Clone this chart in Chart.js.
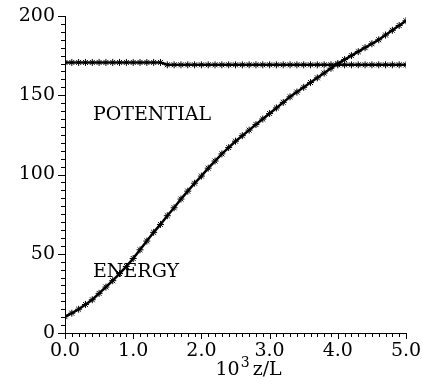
<!DOCTYPE html>
<html>
<head>
<meta charset="utf-8">
<script src="https://cdn.jsdelivr.net/npm/chart.js@4/dist/chart.umd.min.js"></script>
<style>
  html, body { margin: 0; padding: 0; background: #fff; }
  #wrap { width: 422px; height: 384px; }
</style>
</head>
<body>
<div id="wrap"><canvas id="chart" width="422" height="384"></canvas></div>
<script>
// x positions (10^3 z/L), every 0.1
const zValues = [
  0.0, 0.1, 0.2, 0.3, 0.4, 0.5, 0.6, 0.7, 0.8, 0.9,
  1.0, 1.1, 1.2, 1.3, 1.4, 1.5, 1.6, 1.7, 1.8, 1.9,
  2.0, 2.1, 2.2, 2.3, 2.4, 2.5, 2.6, 2.7, 2.8, 2.9,
  3.0, 3.1, 3.2, 3.3, 3.4, 3.5, 3.6, 3.7, 3.8, 3.9,
  4.0, 4.1, 4.2, 4.3, 4.4, 4.5, 4.6, 4.7, 4.8, 4.9, 5.0
];

const potential = [
  170.7, 170.7, 170.7, 170.7, 170.7, 170.7, 170.7, 170.7, 170.7, 170.7,
  170.7, 170.7, 170.7, 170.7, 170.7, 169.2, 169.2, 169.2, 169.2, 169.2,
  169.2, 169.2, 169.2, 169.2, 169.2, 169.2, 169.2, 169.2, 169.2, 169.2,
  169.2, 169.2, 169.2, 169.2, 169.2, 169.2, 169.2, 169.2, 169.2, 169.2,
  169.2, 169.2, 169.2, 169.2, 169.2, 169.2, 169.2, 169.2, 169.2, 169.2, 169.2
];

const energy = [
  10.3, 12.5, 15, 18, 21, 25, 29, 33, 37.5, 42,
  47, 52.5, 58, 63.5, 68.5, 74, 79, 84.5, 89.5, 94.5,
  99, 104, 108.5, 113, 117, 121, 124.5, 128, 131.5, 135,
  138.5, 142, 145.5, 149, 152, 155, 158, 161, 164, 167,
  170, 172.5, 175, 177.5, 180, 182.5, 185, 188, 191, 194, 197
];

const xTicks = [0, 1, 2, 3, 4, 5];
const yTicks = [0, 50, 100, 150, 200];

const labels = [
  { text: 'POTENTIAL', x: 0.41, y: 137.5 },
  { text: 'ENERGY', x: 0.41, y: 38.5 }
];

const FONT = '"DejaVu Serif", "Liberation Serif", serif';

const toPoints = ys => zValues.map((z, i) => ({ x: z, y: ys[i] }));

const extras = {
  id: 'extras',
  afterDraw(chart) {
    const ctx = chart.ctx;
    const xs = chart.scales.x, ys = chart.scales.y;
    const area = chart.chartArea;
    ctx.save();
    ctx.strokeStyle = '#000';
    ctx.lineWidth = 1;
    ctx.beginPath();
    for (let i = 0; i <= 50; i++) {
      const px = Math.round(xs.getPixelForValue(i / 10)) + 0.5;
      const len = i % 10 === 0 ? 6 : 4;
      ctx.moveTo(px, area.bottom);
      ctx.lineTo(px, area.bottom + len);
    }
    for (let i = 0; i <= 40; i++) {
      const py = Math.round(ys.getPixelForValue(i * 5)) + 0.5;
      const len = i % 10 === 0 ? 7 : 4;
      ctx.moveTo(area.left, py);
      ctx.lineTo(area.left - len, py);
    }
    ctx.stroke();

    ctx.fillStyle = '#000';
    ctx.font = '19px ' + FONT;
    ctx.textBaseline = 'middle';
    ctx.textAlign = 'left';
    labels.forEach(l => {
      ctx.fillText(l.text, xs.getPixelForValue(l.x), ys.getPixelForValue(l.y));
    });

    // axis title: 10^3 z/L
    ctx.textBaseline = 'alphabetic';
    const tx = (area.left + area.right) / 2 - 20;
    const ty = area.bottom + 42;
    ctx.fillText('10', tx, ty);
    const w10 = ctx.measureText('10').width;
    ctx.font = '14px ' + FONT;
    ctx.fillText('3', tx + w10 + 1, ty - 8);
    ctx.font = '19px ' + FONT;
    ctx.fillText('z/L', tx + w10 + 13, ty);
    ctx.restore();
  }
};

new Chart(document.getElementById('chart').getContext('2d'), {
  type: 'line',
  data: {
    datasets: [
      {
        label: 'Potential',
        data: toPoints(potential),
        borderColor: '#000',
        backgroundColor: '#000',
        borderWidth: 2.5,
        pointStyle: 'star',
        pointRadius: 3.5,
        pointBorderWidth: 1,
        tension: 0
      },
      {
        label: 'Energy',
        data: toPoints(energy),
        borderColor: '#000',
        backgroundColor: '#000',
        borderWidth: 2.5,
        pointStyle: 'star',
        pointRadius: 3.5,
        pointBorderWidth: 1,
        tension: 0
      }
    ]
  },
  options: {
    responsive: false,
    animation: false,
    layout: { padding: { left: 0, top: 16, right: 16, bottom: 0 } },
    plugins: {
      legend: { display: false },
      tooltip: { enabled: false }
    },
    scales: {
      x: {
        type: 'linear',
        min: 0,
        max: 5,
        afterBuildTicks: s => { s.ticks = xTicks.map(v => ({ value: v })); },
        ticks: {
          color: '#000',
          font: { family: FONT, size: 19 },
          padding: 7,
          maxRotation: 0,
          callback: v => Number(v).toFixed(1)
        },
        grid: { display: true, drawOnChartArea: false, drawTicks: false },
        border: { display: true, color: '#000', width: 1 },
        afterFit: s => { s.height = 51; s.paddingLeft = 0; s.paddingRight = 0; }
      },
      y: {
        min: 0,
        max: 200,
        afterBuildTicks: s => { s.ticks = yTicks.map(v => ({ value: v })); },
        ticks: {
          color: '#000',
          font: { family: FONT, size: 19 },
          padding: 10
        },
        grid: { display: true, drawOnChartArea: false, drawTicks: false },
        border: { display: true, color: '#000', width: 1 },
        afterFit: s => { s.width = 65; s.paddingTop = 0; s.paddingBottom = 0; }
      }
    }
  },
  plugins: [extras]
});
</script>
</body>
</html>
